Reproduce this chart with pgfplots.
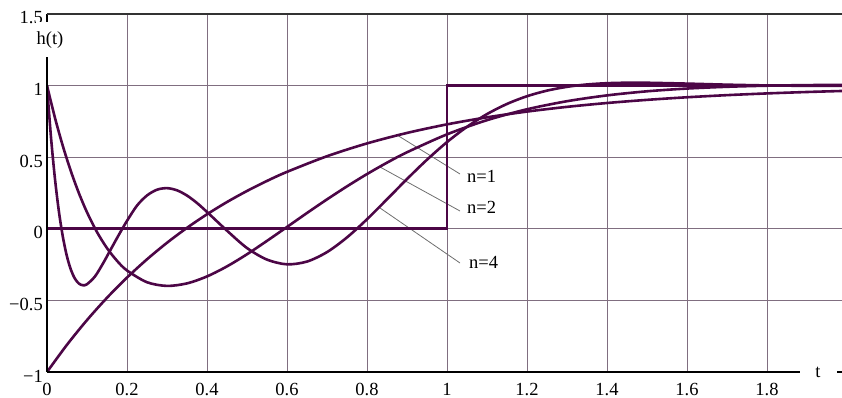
\documentclass[border=0pt]{standalone}
\usepackage{fontspec}
\setmainfont{Liberation Serif}
\newfontfamily\timesfont{Liberation Serif}
\usepackage{pgfplots}
\pgfplotsset{compat=1.18}
\definecolor{curve}{RGB}{76,6,70}
\definecolor{gridc}{RGB}{128,110,128}
\definecolor{leader}{RGB}{110,110,110}
\newcommand\lbl{\timesfont\fontsize{18.5}{21}\selectfont}
\begin{document}
\begin{tikzpicture}
\begin{axis}[
  scale only axis, width=795pt, height=358pt,
  at={(0pt,0pt)}, anchor=south west,
  xmin=0, xmax=1.9875, ymin=-1, ymax=1.5,
  xtick={0,0.2,0.4,0.6,0.8,1,1.2,1.4,1.6,1.8},
  xticklabels={0,0.2,0.4,0.6,0.8,1,1.2,1.4,1.6,1.8},
  ytick={-1,-0.5,0,0.5,1,1.5},
  yticklabels={−1,−0.5,0,0.5,1,1.5},
  major tick length=0pt,
  grid=major, major grid style={draw=gridc, line width=0.9pt},
  axis line style={draw=none},
  tick label style={font=\lbl, inner sep=0pt},
  xticklabel style={anchor=north, yshift=-11pt},
  yticklabel style={anchor=east, xshift=-4pt, yshift=-4pt},
  clip mode=individual,
]
% leader lines
\draw[leader, line width=0.8pt] (axis cs:0.875,0.655) -- (axis cs:1.0325,0.3827);
\draw[leader, line width=0.8pt] (axis cs:0.8325,0.4316) -- (axis cs:1.0325,0.1243);
\draw[leader, line width=0.8pt] (axis cs:0.8325,0.1453) -- (axis cs:1.0325,-0.2388);

% unit step delayed by 1
\addplot[curve, line width=2.6pt] coordinates {(0,0) (1,0) (1,1) (2,1)};

% n=1
\addplot[curve, line width=2.6pt, smooth] table {
t h
0 -1
0.05 -0.8097
0.10 -0.6375
0.15 -0.4816
0.20 -0.3406
0.25 -0.2131
0.30 -0.0976
0.35 0.0068
0.40 0.1013
0.45 0.1869
0.50 0.2642
0.55 0.3343
0.60 0.3976
0.70 0.5068
0.80 0.5962
0.90 0.6694
1.00 0.7293
1.10 0.7784
1.20 0.8186
1.30 0.8515
1.40 0.8784
1.50 0.9004
1.60 0.9185
1.70 0.9333
1.80 0.9454
1.90 0.9553
2.00 0.9634
};

% n=2
\addplot[curve, line width=2.6pt, smooth] table {
t h
0 1
0.02 0.7740
0.04 0.5746
0.06 0.3997
0.08 0.2473
0.10 0.1155
0.125 -0.0229
0.15 -0.1349
0.175 -0.2233
0.20 -0.2910
0.25 -0.3732
0.30 -0.3988
0.35 -0.3812
0.40 -0.3326
0.45 -0.2624
0.50 -0.1778
0.55 -0.0842
0.60 0.0127
0.65 0.1104
0.70 0.2054
0.75 0.2964
0.80 0.3822
0.85 0.4617
0.90 0.5344
1.00 0.6595
1.10 0.7586
1.20 0.8346
1.30 0.8910
1.40 0.9316
1.50 0.9602
1.60 0.9794
1.70 0.9917
1.80 0.9993
1.90 1.0034
2.00 1.0054
};

% n=4
\addplot[curve, line width=2.6pt, smooth] table {
t h
0 1
0.01 0.6384
0.02 0.3468
0.03 0.1160
0.04 -0.0617
0.05 -0.1942
0.06 -0.2879
0.07 -0.3491
0.08 -0.3829
0.09 -0.3944
0.10 -0.3871
0.12 -0.3325
0.14 -0.2422
0.16 -0.1408
0.18 -0.0401
0.20 0.0554
0.225 0.1621
0.25 0.2328
0.275 0.2729
0.30 0.2838
0.325 0.2686
0.35 0.2322
0.375 0.1802
0.40 0.1176
0.45 -0.0131
0.50 -0.1343
0.55 -0.2152
0.60 -0.2481
0.65 -0.2288
0.70 -0.1628
0.75 -0.0601
0.80 0.0666
0.85 0.2060
0.90 0.3475
0.95 0.4826
1.00 0.6055
1.05 0.7122
1.10 0.8010
1.15 0.8719
1.20 0.9259
1.25 0.9649
1.30 0.9915
1.35 1.0080
1.40 1.0168
1.45 1.0202
1.50 1.0199
1.60 1.0139
1.70 1.0065
1.80 1.0012
1.90 0.9984
2.00 0.9977
};

% axis lines
\draw[black, line width=1.6pt] (axis cs:0,-1) -- (axis cs:1.9875,-1);
\draw[black, line width=1.6pt] (axis cs:0,-1) -- (axis cs:0,1.5);
\draw[black!80, line width=1.6pt] (axis cs:0,1.5) -- (axis cs:1.9875,1.5);

% labels
\node[fill=white, inner xsep=1pt, inner ysep=9pt, font=\lbl] at (axis cs:0.0075,1.32) {h(t)};
\node[fill=white, inner sep=0pt, minimum width=37pt, font=\lbl] at (axis cs:1.9275,-1) {t};
\node[anchor=west, inner sep=0pt, font=\lbl] at (axis cs:1.05,0.369) {n=1};
\node[anchor=west, inner sep=0pt, font=\lbl] at (axis cs:1.05,0.1522) {n=2};
\node[anchor=west, inner sep=0pt, font=\lbl] at (axis cs:1.055,-0.2318) {n=4};
\end{axis}
\pgfresetboundingbox
\path (-47pt,-26pt) rectangle (795pt,372pt);
\end{tikzpicture}
\end{document}
